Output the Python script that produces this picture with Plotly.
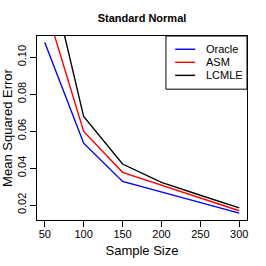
import plotly.graph_objects as go

sample_size = [50, 100, 150, 200, 250, 300]
oracle = [0.108, 0.0535, 0.0328, 0.0272, 0.0213, 0.0156]
asm = [0.129, 0.0598, 0.0377, 0.0307, 0.0237, 0.0169]
lcmle = [0.157, 0.0679, 0.0422, 0.0323, 0.0253, 0.0185]
series_names = ["Oracle", "ASM", "LCMLE"]
series_colors = ["#0000FF", "#FF0000", "#000000"]
x_ticks = [50, 100, 150, 200, 250, 300]
y_ticks = [0.02, 0.04, 0.06, 0.08, 0.10]

font_family = "Liberation Sans, Arial, sans-serif"

fig = go.Figure()
for name, vals, col in zip(series_names, [oracle, asm, lcmle], series_colors):
    fig.add_trace(go.Scatter(x=sample_size, y=vals, mode="lines", name=name,
                             line=dict(color=col, width=1.4), showlegend=False))

# R-style legend box (top-right, drawn in paper coordinates)
shapes = [dict(type="rect", xref="paper", yref="paper", x0=0.614, x1=1.0, y0=0.711, y1=1.0,
               line=dict(color="black", width=1), fillcolor="white", layer="above")]
annotations = []
row_y = [0.928, 0.857, 0.786]
for name, col, ry in zip(series_names, series_colors, row_y):
    shapes.append(dict(type="line", xref="paper", yref="paper", x0=0.658, x1=0.753, y0=ry, y1=ry,
                       line=dict(color=col, width=1.4), layer="above"))
    annotations.append(dict(text=name, xref="paper", yref="paper", x=0.795, y=ry, xanchor="left",
                            yanchor="middle", showarrow=False, font=dict(size=11)))

fig.update_layout(
    width=266, height=266,
    margin=dict(l=36.5, r=19, t=36, b=45.7, autoexpand=False),
    paper_bgcolor="white", plot_bgcolor="white",
    font=dict(family=font_family, size=11, color="black"),
    title=dict(text="<b>Standard Normal</b>", xref="paper", x=0.5, xanchor="center",
               yref="container", y=0.931, yanchor="middle", automargin=False,
               font=dict(size=11, family=font_family)),
    showlegend=False, hovermode=False,
    shapes=shapes, annotations=annotations,
)
fig.update_xaxes(range=[40, 310], tickvals=x_ticks, ticks="outside", ticklen=6, tickcolor="black",
                 showline=True, linecolor="black", linewidth=1, mirror=True, showgrid=False, zeroline=False,
                 automargin=False, ticklabelstandoff=-2, title=dict(text="Sample Size", standoff=6))
fig.update_yaxes(range=[0.0119, 0.1115], tickvals=y_ticks, tickformat=".2f", tickangle=-90,
                 ticks="outside", ticklen=6, tickcolor="black",
                 showline=True, linecolor="black", linewidth=1, mirror=True, showgrid=False, zeroline=False,
                 automargin=False, title=dict(text="Mean Squared Error", standoff=4))

fig.write_html("out.html", config={"displayModeBar": False, "staticPlot": True},
               post_script="document.body.style.margin='0';")
